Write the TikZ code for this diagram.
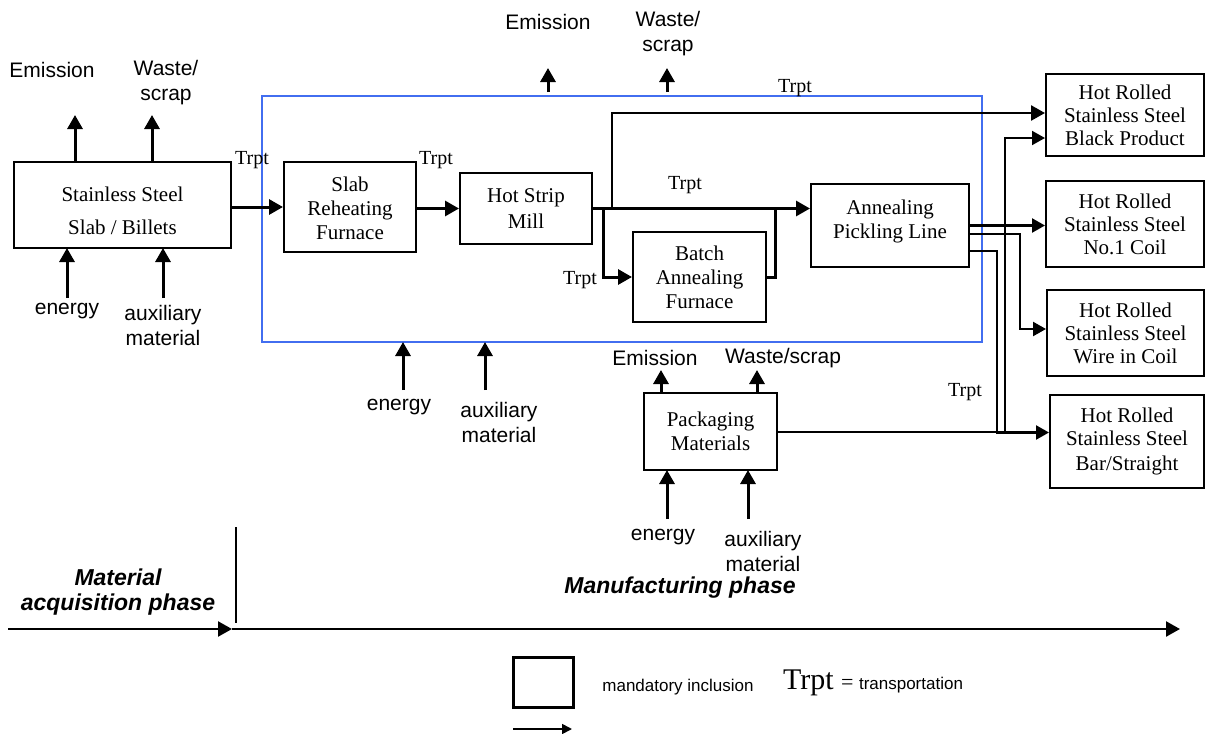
\documentclass[tikz,border=0pt]{standalone}
\usepackage{fontspec}
\setmainfont{Liberation Serif}
\setsansfont{Liberation Sans}
\usetikzlibrary{arrows.meta}
\definecolor{frameblue}{RGB}{66,110,240}

\tikzset{
  unitbox/.style={draw, line width=1pt, align=center, inner sep=0pt, font=\fontsize{10.5}{12}\selectfont},
  prodbox/.style={unitbox, font=\fontsize{10.5}{11.5}\selectfont},
  flow/.style={-{Triangle[length=7pt,width=7.5pt]}, line width=1.5pt},
  outflow/.style={-{Triangle[length=6.5pt,width=7pt]}, line width=1.2pt},
  side/.style={font=\sffamily\fontsize{10.5}{12.5}\selectfont, align=center},
  trpt/.style={font=\fontsize{10}{12}\selectfont},
  phase/.style={font=\sffamily\bfseries\itshape\fontsize{11.5}{12.5}\selectfont, align=center},
}

\begin{document}
\begin{tikzpicture}[x=0.5pt,y=-0.5pt]
  \useasboundingbox (0,0) rectangle (1206,734);

  % manufacturing frame
  \node[draw=frameblue, line width=0.8pt, minimum width=360pt, minimum height=123pt, inner sep=0pt] (mfg) at (622,219) {};

  % process boxes
  \node[unitbox, minimum width=108.5pt, minimum height=43pt] (slab) at (122.5,205) {\rule{0pt}{13pt}Stainless Steel\\[4.5pt]Slab / Billets};
  \node[unitbox, minimum width=66pt, minimum height=45pt] (reheat) at (350,207) {\rule{0pt}{9pt}Slab\\Reheating\\Furnace};
  \node[unitbox, minimum width=66pt, minimum height=35.5pt] (hsm) at (526,208.5) {Hot Strip\\[1pt]Mill};
  \node[unitbox, minimum width=66.5pt, minimum height=45pt] (batch) at (699.5,277) {Batch\\Annealing\\Furnace};
  \node[unitbox, minimum width=79pt, minimum height=41.5pt] (apl) at (890,225.5) {Annealing\\Pickling Line\rule[-6pt]{0pt}{6pt}};
  \node[unitbox, minimum width=66.5pt, minimum height=38.5pt] (pack) at (710.5,431.5) {Packaging\\Materials};

  % products
  \node[prodbox, minimum width=79pt, minimum height=41pt] (black) at (1125,115) {Hot Rolled\\Stainless Steel\\Black Product};
  \node[prodbox, minimum width=79pt, minimum height=43pt] (coil) at (1125,224) {Hot Rolled\\Stainless Steel\\No.1 Coil};
  \node[prodbox, minimum width=78.5pt, minimum height=43pt] (wire) at (1125.5,333) {Hot Rolled\\Stainless Steel\\Wire in Coil};
  \node[prodbox, minimum width=77pt, minimum height=46.5pt] (bar) at (1127,441.5) {Hot Rolled\\Stainless Steel\\[1pt]Bar/Straight};

  % main line
  \coordinate (split) at ([xshift=5pt]hsm.east);
  \coordinate (bypass) at ([xshift=9.5pt]hsm.east);
  \coordinate (join) at ([xshift=4pt]batch.east |- hsm.east);
  \draw[flow] (slab.east |- reheat.west) -- (reheat.west);
  \draw[flow] (reheat.east |- hsm.west) -- (hsm.west);
  \draw[flow] (hsm.east) -- (hsm.east -| apl.west);
  \draw[flow] (split) |- (batch.west);
  \draw[line width=1.5pt] (batch.east) -| (join);
  \draw[flow, line width=1.3pt] (bypass) |- ([yshift=1pt]black.west);

  % to the products
  \draw[outflow] (apl.east) -- (apl.east -| coil.west);
  \draw[outflow] ([yshift=-4.25pt]apl.east) -- ++(50,0) |- ([yshift=2pt]wire.west);
  \draw[outflow] ([yshift=-12.75pt]apl.east) -- ++(27,0) |- ([yshift=4.5pt]bar.west);
  \draw[outflow, line width=1pt] (pack.east) -- ++(227,0) |- ([yshift=-11.5pt]black.west);

  % inputs and outputs
  \foreach \x in {75,152} \draw[flow] (\x,162) -- (\x,115);
  \foreach \x in {67,163} \draw[flow] (\x,298) -- (\x,248);
  \foreach \x in {548,667} \draw[flow] (\x,92) -- (\x,68);
  \foreach \x in {403,485} \draw[flow] (\x,390) -- (\x,342);
  \foreach \x in {661,757} \draw[flow] (\x,393) -- (\x,370);
  \foreach \x in {667,748} \draw[flow] (\x,519) -- (\x,470);

  \node[side] (emisA) at (52,70) {Emission};
  \node[side] (wasteA) at (166,83) {Waste/\\scrap};
  \node[side] (energyA) at (67,311) {energy};
  \node[side] (auxA) at (163,325) {auxiliary\\material};
  \node[side] (emisB) at (548,22) {Emission};
  \node[side] (wasteB) at (668,34) {Waste/\\scrap};
  \node[side] (energyB) at (399,407) {energy};
  \node[side] (auxB) at (499,422) {auxiliary\\material};
  \node[side] (emisC) at (655,358) {Emission};
  \node[side] (wasteC) at (783,358) {Waste/scrap};
  \node[side] (energyC) at (663,537) {energy};
  \node[side] (auxC) at (763,551) {auxiliary\\material};

  % transport labels
  \node[trpt] (trptA) at (252,160) {Trpt};
  \node[trpt] (trptB) at (436,160) {Trpt};
  \node[trpt] (trptC) at (685,185) {Trpt};
  \node[trpt] (trptD) at (795,88) {Trpt};
  \node[trpt] (trptE) at (580,280) {Trpt};
  \node[trpt] (trptF) at (965,392) {Trpt};

  % phases
  \coordinate (tl0) at (8,629);
  \coordinate (tl1) at (232,629);
  \coordinate (tl2) at (1180,629);
  \draw[flow, line width=1.2pt] (tl0) -- (tl1);
  \draw[flow, line width=1.2pt] (tl1) -- (tl2);
  \draw[line width=0.8pt] (236,527) -- (236,623);
  \node[phase] (acq) at (118,592) {Material\\acquisition phase};
  \node[phase] (manu) at (680,588) {Manufacturing phase};

  % legend
  \node[draw, line width=1.5pt, minimum width=30pt, minimum height=25pt] (keybox) at (543,682) {};
  \node[font=\sffamily\fontsize{8.5}{10}\selectfont] (keytext) at (678,687) {mandatory inclusion};
  \node (keytrpt) at (873,683) {\fontsize{15}{16}\selectfont Trpt \fontsize{11}{12}\selectfont= \sffamily\fontsize{8.5}{10}\selectfont transportation};
  \coordinate (keyA) at (513,729);
  \coordinate (keyB) at (572,729);
  \draw[-{Triangle[length=5pt,width=5pt]}, line width=0.9pt] (keyA) -- (keyB);
\end{tikzpicture}
\end{document}
